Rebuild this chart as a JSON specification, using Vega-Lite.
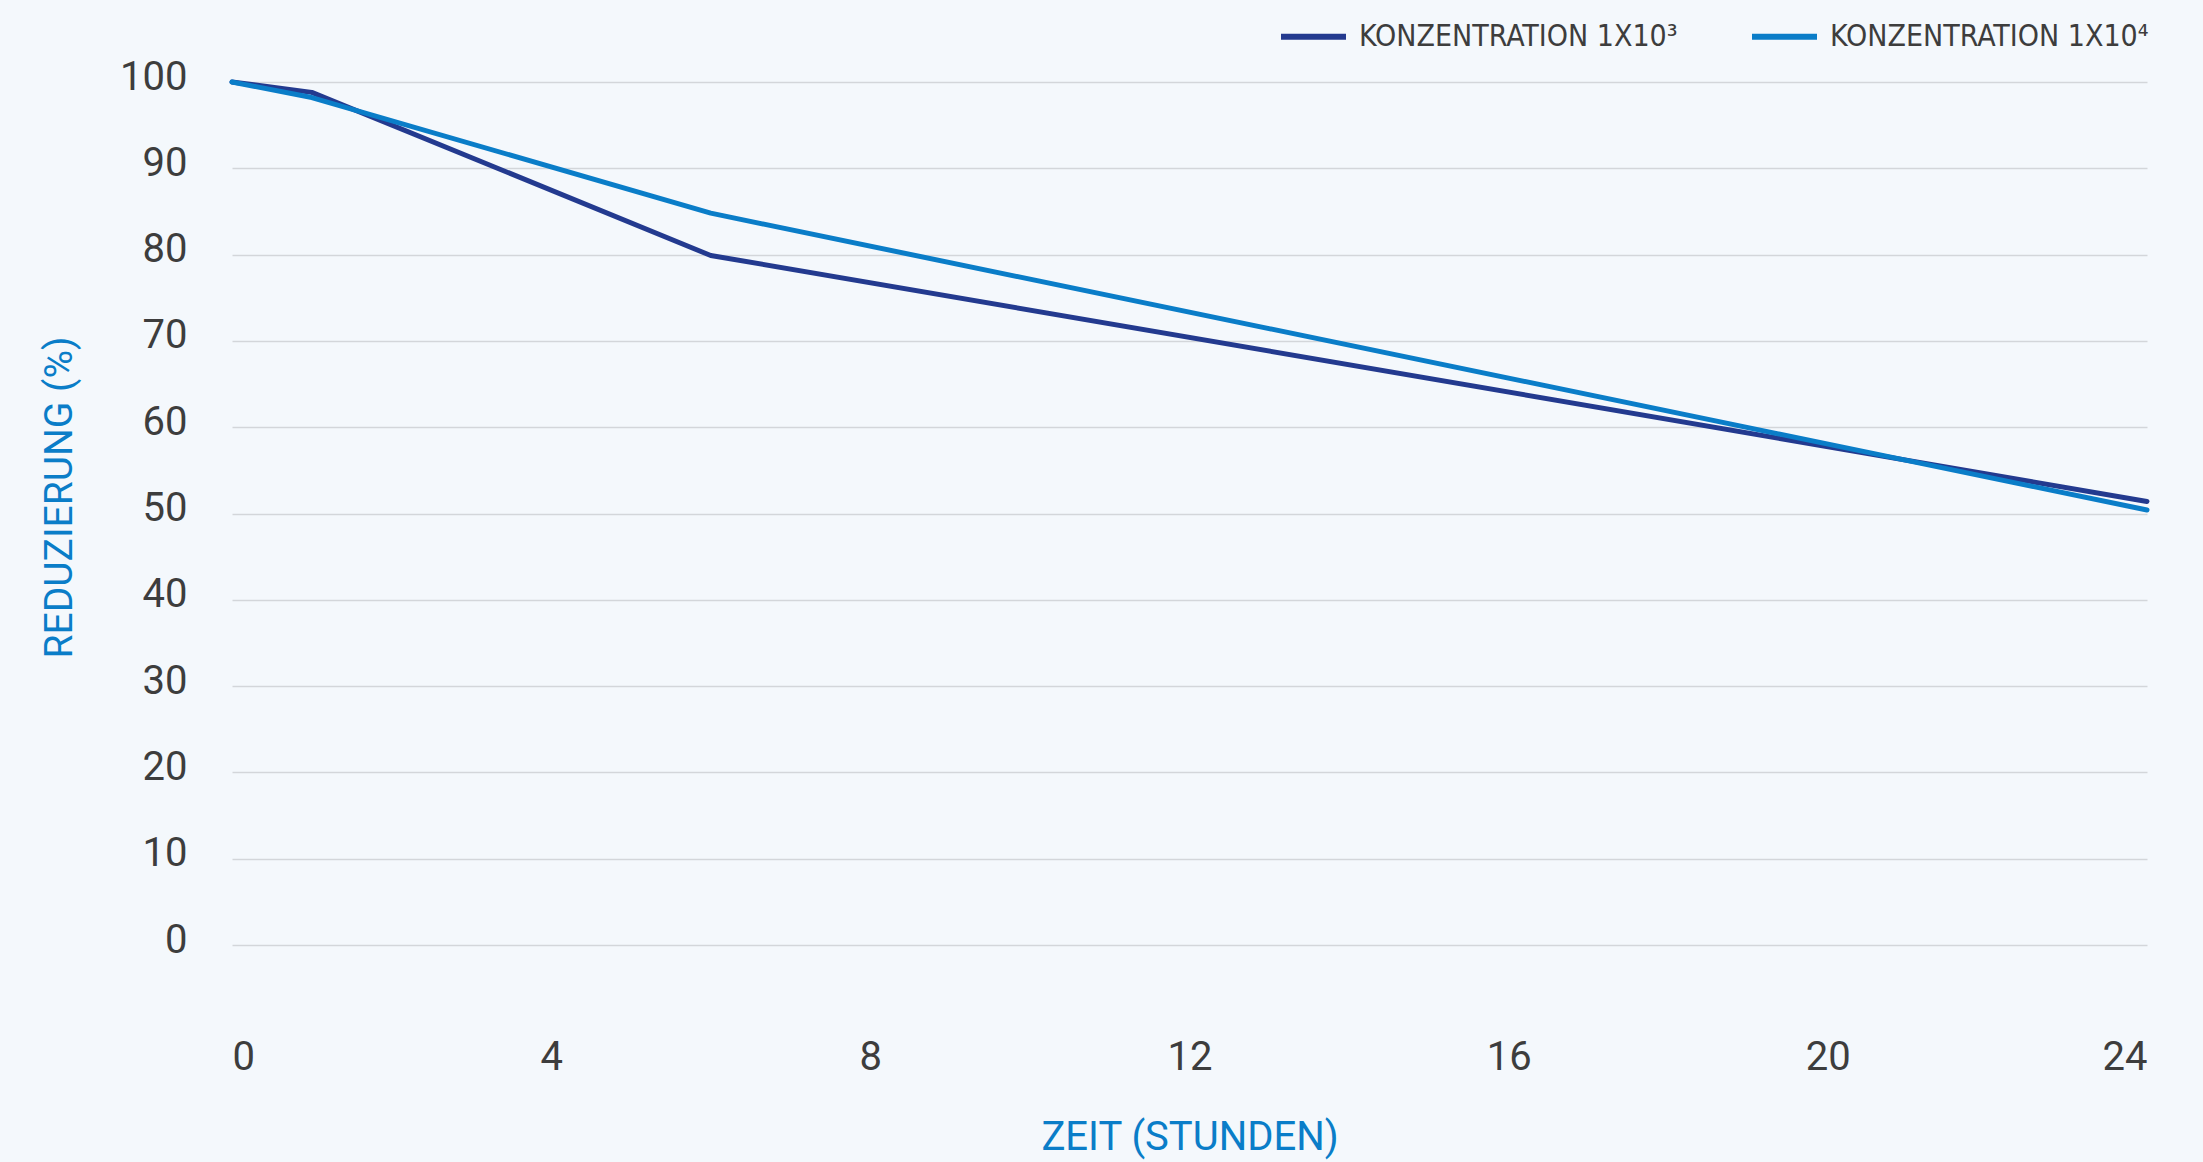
{
  "$schema": "https://vega.github.io/schema/vega-lite/v6.json",
  "autosize": "none",
  "width": 1915,
  "height": 863,
  "padding": {"left": 232, "top": 82, "right": 56, "bottom": 217},
  "background": "#f4f8fc",
  "config": {
    "view": {"stroke": null},
    "font": "Roboto",
    "axis": {"labelColor": "#3d3d3d", "titleColor": "#0a7dc8", "titleFontWeight": "normal", "domain": false, "ticks": false}
  },
  "data": {
    "values": [
      {"stunden": 0, "reduzierung": 100, "serie": "KONZENTRATION 1X10³"},
      {"stunden": 1, "reduzierung": 98.8, "serie": "KONZENTRATION 1X10³"},
      {"stunden": 6, "reduzierung": 79.9, "serie": "KONZENTRATION 1X10³"},
      {"stunden": 24, "reduzierung": 51.4, "serie": "KONZENTRATION 1X10³"},
      {"stunden": 0, "reduzierung": 100, "serie": "KONZENTRATION 1X10⁴"},
      {"stunden": 1, "reduzierung": 98.2, "serie": "KONZENTRATION 1X10⁴"},
      {"stunden": 6, "reduzierung": 84.8, "serie": "KONZENTRATION 1X10⁴"},
      {"stunden": 24, "reduzierung": 50.4, "serie": "KONZENTRATION 1X10⁴"}
    ]
  },
  "mark": {"type": "line", "strokeWidth": 5, "strokeCap": "round", "strokeJoin": "round"},
  "encoding": {
    "x": {
      "field": "stunden", "type": "quantitative",
      "scale": {"domain": [0, 24], "nice": false, "zero": false},
      "axis": {"values": [0, 4, 8, 12, 16, 20, 24], "grid": false, "title": "ZEIT (STUNDEN)", "labelFontSize": 40, "labelPadding": 92, "titleFontSize": 40, "titlePadding": 40}
    },
    "y": {
      "field": "reduzierung", "type": "quantitative",
      "scale": {"domain": [0, 100], "nice": false},
      "axis": {"values": [0, 10, 20, 30, 40, 50, 60, 70, 80, 90, 100], "grid": true, "gridColor": "#d3d6da", "gridWidth": 1.5, "title": "REDUZIERUNG (%)", "labelFontSize": 40, "labelPadding": 45, "labelOffset": -5, "titleFontSize": 39, "titlePadding": 40, "titleY": 415}
    },
    "color": {
      "field": "serie", "type": "nominal",
      "scale": {"domain": ["KONZENTRATION 1X10³", "KONZENTRATION 1X10⁴"], "range": ["#233a8f", "#0a7dc8"]},
      "legend": {"title": null, "orient": "none", "direction": "horizontal", "legendX": 1046, "legendY": -81, "padding": 0, "symbolType": "stroke", "symbolSize": 4225, "symbolStrokeWidth": 6, "labelFont": "DejaVu Sans Condensed", "labelFontSize": 30, "labelLimit": 0, "labelColor": "#3d3d3d", "labelOffset": 10, "columnPadding": 62}
    }
  }
}
